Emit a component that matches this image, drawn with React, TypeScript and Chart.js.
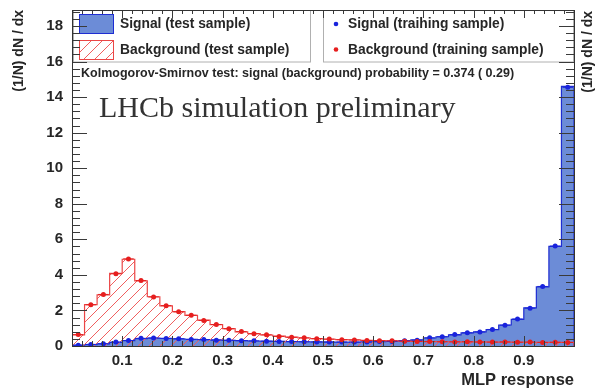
import React, { useEffect, useRef } from "react";
import { Chart, registerables } from "chart.js";

Chart.register(...registerables);

// ---- data ----
const BIN_EDGES = [
  0, 0.025, 0.05, 0.075, 0.1, 0.125, 0.15, 0.175, 0.2, 0.225,
  0.25, 0.275, 0.3, 0.325, 0.35, 0.375, 0.4, 0.425, 0.45, 0.475,
  0.5, 0.525, 0.55, 0.575, 0.6, 0.625, 0.65, 0.675, 0.7, 0.725,
  0.75, 0.775, 0.8, 0.825, 0.85, 0.875, 0.9, 0.925, 0.95, 0.975, 1,
];

const SIGNAL_TEST = [
  0.05, 0.08, 0.12, 0.2, 0.3, 0.42, 0.44, 0.43, 0.4, 0.38,
  0.36, 0.34, 0.32, 0.3, 0.28, 0.27, 0.26, 0.25, 0.24, 0.23,
  0.22, 0.22, 0.22, 0.23, 0.24, 0.26, 0.3, 0.34, 0.45, 0.52,
  0.63, 0.74, 0.8, 0.92, 1.18, 1.5, 2.15, 3.33, 5.6, 14.6,
];

const BACKGROUND_TEST = [
  0.62, 2.33, 2.88, 4.08, 4.88, 3.66, 2.77, 2.26, 1.93, 1.72,
  1.45, 1.2, 0.98, 0.8, 0.7, 0.62, 0.55, 0.5, 0.45, 0.42,
  0.38, 0.36, 0.34, 0.32, 0.3, 0.29, 0.27, 0.26, 0.25, 0.24,
  0.24, 0.23, 0.23, 0.22, 0.22, 0.22, 0.21, 0.21, 0.2, 0.2,
];

const SIGNAL_TRAIN = [
  0.04, 0.09, 0.13, 0.22, 0.31, 0.43, 0.45, 0.42, 0.41, 0.37,
  0.36, 0.33, 0.32, 0.3, 0.29, 0.27, 0.26, 0.25, 0.24, 0.23,
  0.23, 0.22, 0.22, 0.23, 0.25, 0.26, 0.29, 0.33, 0.46, 0.52,
  0.64, 0.74, 0.79, 0.93, 1.17, 1.52, 2.13, 3.35, 5.62, 14.55,
];

const BACKGROUND_TRAIN = [
  0.64, 2.32, 2.9, 4.06, 4.9, 3.68, 2.76, 2.27, 1.92, 1.73,
  1.44, 1.21, 0.97, 0.81, 0.69, 0.63, 0.54, 0.49, 0.46, 0.41,
  0.39, 0.35, 0.34, 0.31, 0.3, 0.29, 0.27, 0.26, 0.25, 0.24,
  0.23, 0.24, 0.22, 0.22, 0.23, 0.21, 0.22, 0.2, 0.21, 0.2,
];

const X_MIN = 0;
const X_MAX = 1;
const Y_MIN = 0;
const Y_MAX = 18.9;
const X_STEP = 0.1;
const Y_STEP = 2;
const X_MINOR = 0.02;
const Y_MINOR = 0.4;

const LEGEND_TEST = ["Signal (test sample)", "Background (test sample)"];
const LEGEND_TRAIN = ["Signal (traihing sample)", "Background (training sample)"];
const KS_TEXT = "Kolmogorov-Smirnov test: signal (background) probability = 0.374 ( 0.29)";
const WATERMARK = "LHCb simulation preliminary";
const X_TITLE = "MLP response";
const Y_TITLE = "(1/N) dN / dx";

// ---- styles ----
const SIG_FILL = "rgb(108,140,215)";
const SIG_LINE = "rgb(30,45,210)";
const BKG_LINE = "rgb(235,70,70)";
const SIG_MARK = "rgb(25,35,220)";
const BKG_MARK = "rgb(230,30,30)";
const TEXT = "#262626";
const SANS = "'Liberation Sans', Arial, Helvetica, sans-serif";
const SERIF = "'Liberation Serif', 'Times New Roman', serif";

function histPoints(values: number[]) {
  const pts: { x: number; y: number }[] = [{ x: BIN_EDGES[0], y: 0 }];
  values.forEach((v, i) => pts.push({ x: BIN_EDGES[i], y: v }));
  pts.push({ x: BIN_EDGES[BIN_EDGES.length - 1], y: 0 });
  return pts;
}

function markerPoints(values: number[]) {
  return values.map((v, i) => ({ x: (BIN_EDGES[i] + BIN_EDGES[i + 1]) / 2, y: v }));
}

function errPoints(values: number[]) {
  const pts: { x: number; y: number | null }[] = [];
  values.forEach((v, i) => {
    pts.push({ x: BIN_EDGES[i] + 0.002, y: v });
    pts.push({ x: BIN_EDGES[i + 1] - 0.002, y: v });
    pts.push({ x: BIN_EDGES[i + 1], y: null });
  });
  return pts;
}

function makeHatch(): CanvasPattern | string {
  const s = 11;
  const c = document.createElement("canvas");
  c.width = s;
  c.height = s;
  const g = c.getContext("2d");
  if (!g) return "rgba(235,60,60,0.2)";
  g.strokeStyle = "rgb(240,95,95)";
  g.lineWidth = 1;
  for (const k of [-s, 0, s]) {
    g.beginPath();
    g.moveTo(k, s);
    g.lineTo(k + s, 0);
    g.stroke();
  }
  const p = g.createPattern(c, "repeat");
  return p || "rgba(235,60,60,0.2)";
}

const overlayPlugin = {
  id: "overlay",
  afterDatasetsDraw(chart: any) {
    const ctx: CanvasRenderingContext2D = chart.ctx;
    const hatch = chart.$hatch;
    ctx.save();
    // legend boxes
    ctx.fillStyle = "#fff";
    ctx.strokeStyle = "#b0b0b0";
    ctx.lineWidth = 1;
    ctx.fillRect(73, 10.5, 237, 51.5);
    ctx.strokeRect(73.5, 10.5, 237, 51.5);
    ctx.fillRect(323, 10.5, 251, 51.5);
    ctx.strokeRect(323.5, 10.5, 250, 51.5);

    // signal box
    ctx.fillStyle = SIG_FILL;
    ctx.fillRect(79, 14, 34, 19);
    ctx.strokeStyle = SIG_LINE;
    ctx.strokeRect(79.5, 14.5, 34, 19);
    // background box
    ctx.fillStyle = "#fff";
    ctx.fillRect(79, 40, 34, 19);
    ctx.fillStyle = hatch;
    ctx.fillRect(79, 40, 34, 19);
    ctx.strokeStyle = BKG_LINE;
    ctx.strokeRect(79.5, 40.5, 34, 19);

    ctx.fillStyle = TEXT;
    ctx.font = `bold 13.8px ${SANS}`;
    ctx.textAlign = "left";
    ctx.textBaseline = "middle";
    ctx.fillText(LEGEND_TEST[0], 120, 24.5);
    ctx.fillText(LEGEND_TEST[1], 120, 50);
    ctx.fillText(LEGEND_TRAIN[0], 348, 24.5);
    ctx.fillText(LEGEND_TRAIN[1], 348, 50);

    ctx.fillStyle = SIG_MARK;
    ctx.beginPath();
    ctx.arc(336, 24, 2.3, 0, Math.PI * 2);
    ctx.fill();
    ctx.fillStyle = BKG_MARK;
    ctx.beginPath();
    ctx.arc(336, 49.5, 2.3, 0, Math.PI * 2);
    ctx.fill();

    // KS text
    ctx.fillStyle = TEXT;
    ctx.font = `bold 12.5px ${SANS}`;
    ctx.fillText(KS_TEXT, 81, 74);

    // watermark
    ctx.fillStyle = "#333";
    ctx.font = `30px ${SERIF}`;
    ctx.textBaseline = "alphabetic";
    ctx.fillText(WATERMARK, 99, 117);

    // right axis title (clipped by canvas edge)
    ctx.save();
    ctx.translate(588, 11);
    ctx.rotate(-Math.PI / 2);
    ctx.textAlign = "right";
    ctx.textBaseline = "middle";
    ctx.fillStyle = TEXT;
    ctx.font = `bold 14px ${SANS}`;
    ctx.fillText(Y_TITLE, 0, 0);
    ctx.restore();
    ctx.restore();
  },
  afterDraw(chart: any) {
    const ctx: CanvasRenderingContext2D = chart.ctx;
    const { left, right, top, bottom } = chart.chartArea;
    const xs = chart.scales.x;
    const ys = chart.scales.y;
    ctx.save();
    ctx.strokeStyle = "#3a3a3a";
    ctx.lineWidth = 1;
    ctx.beginPath();
    const nx = Math.round((X_MAX - X_MIN) / X_MINOR);
    for (let i = 0; i <= nx; i++) {
      const v = X_MIN + i * X_MINOR;
      const px = Math.round(xs.getPixelForValue(v)) + 0.5;
      const major = i % 5 === 0;
      ctx.moveTo(px, bottom);
      ctx.lineTo(px, bottom - (major ? 10 : 5));
      ctx.moveTo(px, top);
      ctx.lineTo(px, top + (major ? 8 : 4));
    }
    const ny = Math.floor((Y_MAX - Y_MIN) / Y_MINOR + 1e-6);
    for (let i = 0; i <= ny; i++) {
      const v = Y_MIN + i * Y_MINOR;
      const py = Math.round(ys.getPixelForValue(v)) + 0.5;
      const major = i % 5 === 0;
      const len = major ? 15 : 8;
      ctx.moveTo(left, py);
      ctx.lineTo(left + len, py);
      ctx.moveTo(right, py);
      ctx.lineTo(right - len, py);
    }
    ctx.stroke();
    ctx.strokeStyle = "#333";
    ctx.strokeRect(Math.round(left) + 0.5, Math.round(top) + 0.5, Math.round(right - left), Math.round(bottom - top));
    ctx.restore();
  },
};

export default function App() {
  const ref = useRef<HTMLCanvasElement | null>(null);
  useEffect(() => {
    const canvas = ref.current;
    if (!canvas) return;
    const hatch = makeHatch();
    const chart: any = new Chart(canvas, {
      type: "line",
      data: {
        datasets: [
          {
            label: "Signal (test sample)",
            data: histPoints(SIGNAL_TEST),
            stepped: true,
            borderColor: SIG_LINE,
            borderWidth: 1.2,
            backgroundColor: SIG_FILL,
            fill: "origin",
            pointRadius: 0,
            order: 5,
          },
          {
            label: "Background (test sample)",
            data: histPoints(BACKGROUND_TEST),
            stepped: true,
            borderColor: BKG_LINE,
            borderWidth: 1.2,
            backgroundColor: hatch as any,
            fill: "origin",
            pointRadius: 0,
            order: 4,
          },
          {
            label: "sig err",
            data: errPoints(SIGNAL_TRAIN),
            borderColor: SIG_MARK,
            borderWidth: 1,
            pointRadius: 0,
            spanGaps: false,
            fill: false,
            order: 3,
          },
          {
            label: "bkg err",
            data: errPoints(BACKGROUND_TRAIN),
            borderColor: BKG_MARK,
            borderWidth: 1,
            pointRadius: 0,
            spanGaps: false,
            fill: false,
            order: 2,
          },
          {
            label: "Signal (training sample)",
            data: markerPoints(SIGNAL_TRAIN),
            showLine: false,
            pointRadius: 2.5,
            pointBackgroundColor: SIG_MARK,
            pointBorderWidth: 0,
            order: 1,
          },
          {
            label: "Background (training sample)",
            data: markerPoints(BACKGROUND_TRAIN),
            showLine: false,
            pointRadius: 2.5,
            pointBackgroundColor: BKG_MARK,
            pointBorderWidth: 0,
            order: 0,
          },
        ],
      },
      options: {
        animation: false,
        responsive: false,
        devicePixelRatio: 1,
        events: [],
        layout: { padding: { left: 0, top: 10, right: 21, bottom: 0 } },
        plugins: {
          legend: { display: false },
          tooltip: { enabled: false },
        },
        scales: {
          x: {
            type: "linear",
            min: X_MIN,
            max: X_MAX,
            grid: { display: false, drawTicks: false },
            border: { display: false },
            ticks: {
              stepSize: X_STEP,
              includeBounds: false,
              autoSkip: false,
              maxRotation: 0,
              padding: 6,
              color: TEXT,
              font: { family: SANS, size: 15, weight: "bold" },
              callback: (v: any) => {
                const n = Number(v);
                if (n <= X_MIN + 1e-6 || n >= X_MAX - 1e-6) return "";
                return n.toFixed(1);
              },
            },
            title: {
              display: true,
              text: X_TITLE,
              align: "end",
              color: TEXT,
              font: { family: SANS, size: 16.5, weight: "bold" },
              padding: { top: 0, bottom: 1 },
            },
            afterFit: (s: any) => {
              s.height = 45;
              s.paddingLeft = 0;
              s.paddingRight = 0;
            },
          },
          y: {
            type: "linear",
            min: Y_MIN,
            max: Y_MAX,
            grid: { display: false, drawTicks: false },
            border: { display: false },
            ticks: {
              stepSize: Y_STEP,
              includeBounds: false,
              padding: 9,
              color: TEXT,
              font: { family: SANS, size: 15, weight: "bold" },
              callback: (v: any) => String(Math.round(Number(v))),
            },
            title: {
              display: true,
              text: Y_TITLE,
              align: "end",
              color: TEXT,
              font: { family: SANS, size: 14, weight: "bold" },
              padding: { top: 11, bottom: 0 },
            },
            afterFit: (s: any) => {
              s.width = 72;
              s.paddingTop = 0;
              s.paddingBottom = 0;
            },
          },
        },
      },
      plugins: [overlayPlugin],
    });
    chart.$hatch = hatch;
    chart.draw();
    return () => chart.destroy();
  }, []);
  return (
    <div style={{ position: "absolute", left: 0, top: 0, width: 595, height: 391, background: "#fff" }}>
      <canvas ref={ref} width={595} height={391} style={{ width: 595, height: 391, display: "block" }} />
    </div>
  );
}
